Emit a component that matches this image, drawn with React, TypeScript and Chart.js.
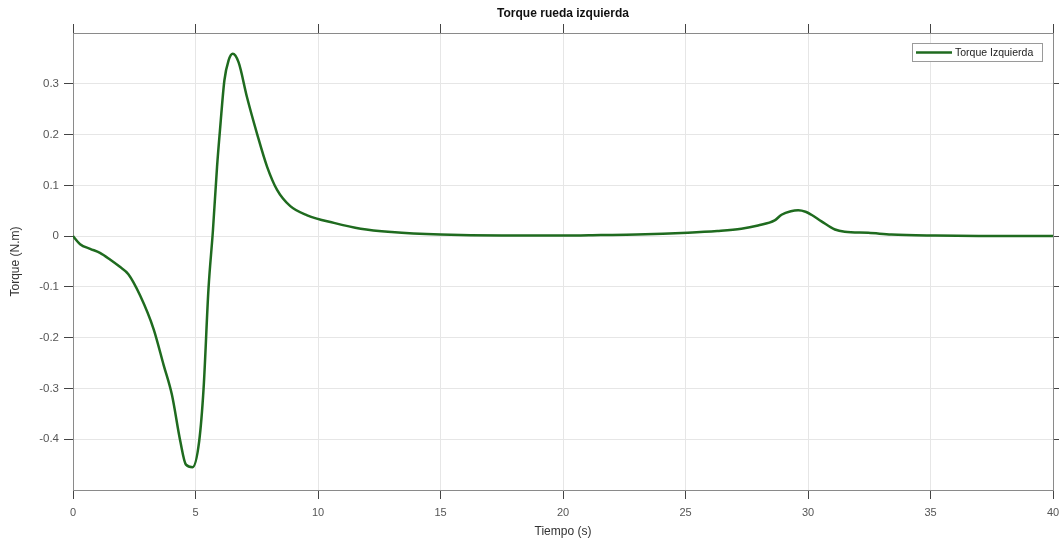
import React, { useEffect, useRef } from "react";
import { Chart, registerables } from "chart.js";

Chart.register(...registerables);

const TITLE = "Torque rueda izquierda";
const X_LABEL = "Tiempo (s)";
const Y_LABEL = "Torque (N.m)";
const SERIES_NAME = "Torque Izquierda";

const TIME = [
  0, 0.29, 0.7, 1.1, 1.51, 1.9, 2.26, 2.74, 3.29, 3.7, 4.04, 4.38, 4.61, 4.88,
  5.15, 5.33, 5.53, 5.71, 5.88, 6.01, 6.18, 6.35, 6.52, 6.76, 7.1, 7.51, 7.92,
  8.33, 8.87, 9.56, 10.65, 11.74, 13, 15, 17.5, 20, 21.55, 23, 25.1, 26.3,
  27.28, 27.96, 28.64, 28.92, 29.3, 29.6, 29.9, 30.14, 30.55, 31.1, 31.5,
  32.46, 33.4, 35.2, 37.5, 40,
];
const TORQUE = [
  0, -0.016, -0.025, -0.033, -0.046, -0.06, -0.075, -0.117, -0.183, -0.254,
  -0.313, -0.404, -0.45, -0.455, -0.404, -0.3, -0.104, 0.01, 0.137, 0.215,
  0.307, 0.346, 0.359, 0.342, 0.274, 0.202, 0.137, 0.091, 0.059, 0.041, 0.026,
  0.0145, 0.008, 0.003, 0.001, 0.001, 0.002, 0.003, 0.0066, 0.01, 0.0145,
  0.021, 0.031, 0.042, 0.049, 0.051, 0.048, 0.042, 0.029, 0.013, 0.0086,
  0.0066, 0.003, 0.001, 0.0003, 0,
];

const X_TICKS = [0, 5, 10, 15, 20, 25, 30, 35, 40];
const Y_TICKS = [-0.4, -0.3, -0.2, -0.1, 0, 0.1, 0.2, 0.3];
const X_MIN = 0;
const X_MAX = 40;
const Y_MIN = -0.5;
const Y_MAX = 0.4;

const FONT = "'Liberation Sans', Arial, Helvetica, sans-serif";
const LINE_COLOR = "#1f6b1f";

export default function App() {
  const ref = useRef<HTMLCanvasElement | null>(null);

  useEffect(() => {
    if (!ref.current) return;

    const overlay = {
      id: "overlay",
      afterDraw(chart: any) {
        const { ctx, chartArea } = chart;
        ctx.save();
        // title
        ctx.fillStyle = "#111";
        ctx.font = `bold 12px ${FONT}`;
        ctx.textAlign = "center";
        ctx.textBaseline = "middle";
        ctx.fillText(TITLE, (chartArea.left + chartArea.right) / 2, 14);
        // legend box
        const bx = 912, by = 43, bw = 130, bh = 18;
        ctx.fillStyle = "#ffffff";
        ctx.fillRect(bx, by, bw, bh);
        ctx.strokeStyle = "#9a9a9a";
        ctx.lineWidth = 1;
        ctx.strokeRect(bx + 0.5, by + 0.5, bw, bh);
        ctx.strokeStyle = LINE_COLOR;
        ctx.lineWidth = 2.5;
        ctx.beginPath();
        ctx.moveTo(916, by + bh / 2 + 0.5);
        ctx.lineTo(952, by + bh / 2 + 0.5);
        ctx.stroke();
        ctx.fillStyle = "#222";
        ctx.font = `10.5px ${FONT}`;
        ctx.textAlign = "left";
        ctx.fillText(SERIES_NAME, 955, by + bh / 2 + 1);
        ctx.restore();
      },
    };

    const axisBorder = { display: true, color: "#8a8a8a", width: 1 };
    const tickFont = { family: FONT, size: 11 };
    const noPad = (s: any) => {
      s.paddingLeft = 0;
      s.paddingRight = 0;
      s.paddingTop = 0;
      s.paddingBottom = 0;
    };

    const chart = new Chart(ref.current, {
      type: "line",
      data: {
        datasets: [
          {
            label: SERIES_NAME,
            data: TIME.map((t, i) => ({ x: t, y: TORQUE[i] })),
            borderColor: LINE_COLOR,
            borderWidth: 2.5,
            pointRadius: 0,
            fill: false,
            cubicInterpolationMode: "monotone",
            xAxisID: "x",
            yAxisID: "y",
          },
        ],
      },
      options: {
        animation: false,
        responsive: false,
        layout: { padding: 0 },
        plugins: {
          legend: { display: false },
          title: { display: false },
          tooltip: { enabled: false },
        },
        scales: {
          x: {
            type: "linear",
            position: "bottom",
            min: X_MIN,
            max: X_MAX,
            afterBuildTicks: (s: any) => {
              s.ticks = X_TICKS.map((v) => ({ value: v }));
            },
            afterFit: (s: any) => {
              s.height = 53;
              noPad(s);
            },
            ticks: { color: "#555", font: tickFont, padding: 7, maxRotation: 0 },
            grid: { color: "#e6e6e6", tickColor: "#444", tickLength: 9, lineWidth: 1 },
            border: axisBorder,
            title: {
              display: true,
              text: X_LABEL,
              color: "#333",
              font: { family: FONT, size: 12 },
              padding: { top: 0, bottom: 4 },
            },
          },
          x2: {
            type: "linear",
            position: "top",
            min: X_MIN,
            max: X_MAX,
            afterBuildTicks: (s: any) => {
              s.ticks = X_TICKS.map((v) => ({ value: v }));
            },
            afterFit: (s: any) => {
              s.height = 33;
              noPad(s);
            },
            ticks: { display: false },
            grid: { drawOnChartArea: false, tickColor: "#444", tickLength: 9 },
            border: axisBorder,
          },
          y: {
            type: "linear",
            position: "left",
            min: Y_MIN,
            max: Y_MAX,
            afterBuildTicks: (s: any) => {
              s.ticks = Y_TICKS.map((v) => ({ value: v }));
            },
            afterFit: (s: any) => {
              s.width = 73;
              noPad(s);
            },
            ticks: {
              color: "#555",
              font: { family: FONT, size: 11.5 },
              padding: 5,
              callback: (v: any) => String(Math.round(Number(v) * 10) / 10),
            },
            grid: { color: "#e6e6e6", tickColor: "#444", tickLength: 9, lineWidth: 1 },
            border: axisBorder,
            title: {
              display: true,
              text: Y_LABEL,
              color: "#333",
              font: { family: FONT, size: 12 },
              padding: { top: 8, bottom: 0 },
            },
          },
          y2: {
            type: "linear",
            position: "right",
            min: Y_MIN,
            max: Y_MAX,
            afterBuildTicks: (s: any) => {
              s.ticks = Y_TICKS.map((v) => ({ value: v }));
            },
            afterFit: (s: any) => {
              s.width = 6;
              noPad(s);
            },
            ticks: { display: false },
            grid: { drawOnChartArea: false, tickColor: "#444", tickLength: 6 },
            border: axisBorder,
          },
        },
      },
      plugins: [overlay],
    } as any);

    return () => chart.destroy();
  }, []);

  return (
    <div style={{ position: "absolute", left: 0, top: 0, width: 1059, height: 543, background: "#fff" }}>
      <canvas ref={ref} width={1059} height={543} style={{ display: "block" }} />
    </div>
  );
}
